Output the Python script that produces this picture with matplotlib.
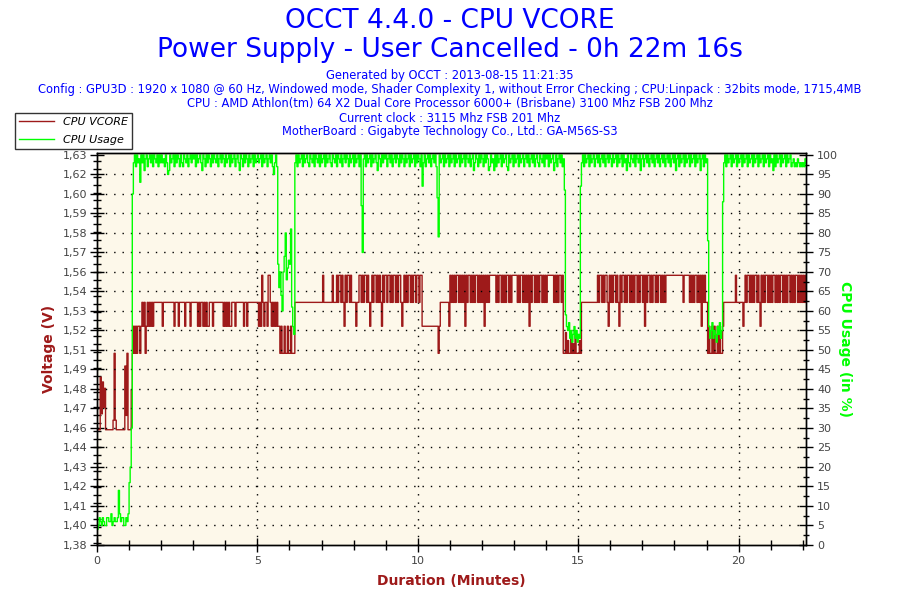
import numpy as np
import matplotlib.pyplot as plt
from matplotlib.ticker import FixedLocator, MultipleLocator
from matplotlib.lines import Line2D

# sampling step of the log : 2 s (in minutes)
pas_min = 2.0 / 60.0

# voltage levels (V)
A = 1.456
B = 1.504
C = 1.521
D = 1.536
E = 1.553

# CPU VCORE, one line = one minute (30 values)
vcore = [
    A, A, A, 1.489, 1.466, 1.486, 1.470, 1.482, A, A, A, A, A, A, A, 1.462, 1.504, 1.462, A, A, A, A, A, A, A, A, 1.496, 1.465, 1.504, A,
    A, A, 1.481, B, C, B, C, B, C, C, B, C, D, C, D, B, C, D, C, D, C, D, C, D, D, D, D, D, D, D,
    D, C, D, D, D, D, D, D, D, D, D, D, C, D, D, D, C, D, D, D, D, D, C, D, D, D, D, C, D, D,
    D, D, D, D, C, D, C, D, D, C, D, C, D, C, C, D, D, D, C, D, D, D, D, D, D, D, D, D, C, D,
    C, D, C, D, C, C, D, D, D, C, D, D, D, D, D, D, D, C, D, D, C, D, D, D, D, D, D, D, D, D,
    D, C, D, C, E, D, C, D, D, C, E, E, D, C, D, C, D, C, D, C, C, B, C, B, B, C, B, B, C, B,
    B, C, B, B, B, D, D, D, D, D, D, D, D, D, D, D, D, D, D, D, D, D, D, D, D, D, D, D, D, D,
    D, E, D, D, D, D, D, D, D, D, E, D, D, D, E, D, E, E, D, E, D, C, E, D, E, E, D, E, D, D,
    D, D, C, D, D, E, E, D, E, D, E, E, D, E, D, C, D, E, D, E, E, D, E, D, E, D, C, E, D, E,
    E, D, E, E, D, E, D, E, E, D, E, D, E, E, D, C, D, E, D, E, D, E, E, D, E, D, E, E, D, E,
    E, D, E, E, C, C, C, C, C, C, C, C, C, C, C, C, C, C, C, B, C, D, D, D, D, D, D, D, D, C,
    E, D, E, D, E, D, E, E, D, E, D, E, D, E, C, E, D, E, E, D, E, D, E, D, E, E, D, E, D, E,
    D, E, C, E, D, E, D, E, E, E, E, E, E, D, E, D, E, E, D, E, D, E, D, E, E, D, E, D, E, E,
    E, E, E, D, E, D, E, E, D, E, D, E, D, E, C, E, D, E, E, D, E, D, E, D, E, E, D, E, D, E,
    D, E, E, E, E, E, E, D, E, D, E, D, E, E, D, E, B, B, 1.517, B, 1.512, B, B, 1.515, B, 1.510, B, 1.516, B, B,
    B, 1.512, B, D, D, D, D, D, D, D, D, D, D, D, D, D, D, D, E, D, E, E, D, E, D, E, E, D, C, E,
    D, E, D, E, E, D, E, D, C, E, D, E, E, D, E, D, E, E, D, E, D, E, D, E, E, D, E, D, E, E,
    D, E, C, E, D, E, E, D, E, D, E, E, D, E, D, E, E, D, E, D, E, D, E, E, E, E, E, E, E, E,
    E, E, E, E, E, E, E, E, D, E, E, E, E, E, D, E, D, E, D, E, E, D, E, D, E, C, E, D, E, D,
    D, B, C, B, B, C, B, C, B, B, C, B, C, B, B, C, D, D, D, D, D, D, D, D, D, D, D, E, D, D,
    D, D, D, D, C, D, E, D, E, E, D, E, D, E, D, E, E, D, E, D, C, E, D, E, D, E, E, D, E, D,
    E, D, E, E, D, E, D, E, D, E, E, D, E, D, E, D, E, E, D, E, D, E, D, E, E, D, E, D, E, D,
    E, D, E, D,
]

# CPU usage (%), one line = one minute (30 values)
cpu = [
    4, 5, 7, 6, 5, 7, 6, 5, 5, 7, 7, 6, 6, 8, 5, 6, 7, 6, 6, 7, 14, 8, 6, 7, 7, 5, 5, 7, 6, 8,
    16, 20, 30, 90, 98, 100, 97, 100, 98, 99, 93, 100, 98, 100, 96, 99, 100, 97, 99, 100, 98, 100, 97, 100, 99, 98, 100, 97, 100, 98,
    100, 98, 99, 97, 100, 98, 95, 96, 100, 98, 99, 100, 97, 100, 98, 100, 99, 97, 100, 98, 97, 100, 99, 98, 100, 97, 99, 100, 98, 100,
    99, 100, 97, 100, 98, 99, 100, 98, 96, 100, 99, 97, 100, 98, 100, 99, 97, 100, 98, 100, 99, 98, 100, 97, 99, 100, 98, 100, 99, 97,
    100, 98, 99, 100, 97, 100, 98, 99, 100, 97, 99, 100, 98, 96, 100, 99, 97, 100, 98, 100, 99, 97, 100, 98, 99, 100, 97, 100, 98, 99,
    100, 98, 99, 100, 97, 100, 98, 99, 100, 97, 99, 100, 98, 100, 97, 95, 98, 100, 97, 72, 66, 70, 64, 60, 70, 74, 80, 68, 71, 73,
    72, 81, 61, 56, 54, 98, 100, 97, 100, 98, 99, 100, 97, 100, 98, 99, 100, 98, 97, 100, 99, 98, 100, 97, 100, 99, 98, 100, 97, 100,
    98, 99, 100, 97, 100, 98, 99, 100, 98, 97, 100, 99, 98, 100, 97, 100, 99, 98, 100, 97, 99, 100, 98, 100, 99, 97, 100, 98, 99, 100,
    97, 100, 98, 99, 100, 97, 100, 87, 75, 99, 100, 97, 100, 98, 99, 100, 97, 100, 98, 99, 100, 98, 96, 100, 99, 97, 100, 98, 100, 99,
    100, 97, 99, 100, 98, 100, 97, 99, 100, 98, 100, 99, 97, 100, 98, 100, 99, 97, 100, 98, 99, 100, 97, 100, 98, 99, 100, 97, 100, 98,
    100, 99, 97, 100, 92, 98, 100, 97, 99, 100, 98, 100, 97, 99, 100, 98, 100, 97, 89, 79, 100, 98, 99, 100, 97, 100, 98, 99, 100, 97,
    100, 98, 99, 100, 97, 100, 98, 99, 100, 97, 100, 98, 99, 100, 97, 100, 99, 98, 100, 97, 99, 100, 96, 98, 100, 99, 97, 100, 98, 100,
    99, 97, 100, 98, 100, 99, 96, 97, 100, 98, 99, 96, 100, 97, 100, 98, 99, 100, 97, 100, 98, 99, 100, 97, 96, 100, 98, 99, 100, 97,
    100, 98, 99, 100, 97, 100, 98, 99, 100, 97, 99, 100, 98, 100, 97, 99, 100, 98, 100, 97, 99, 100, 98, 97, 100, 99, 98, 100, 97, 100,
    99, 100, 97, 100, 98, 99, 100, 96, 98, 100, 97, 99, 100, 98, 100, 97, 99, 91, 59, 56, 55, 57, 53, 55, 52, 54, 56, 53, 55, 52,
    54, 53, 92, 98, 100, 97, 100, 98, 99, 100, 97, 100, 98, 99, 100, 97, 99, 100, 98, 100, 97, 99, 100, 98, 100, 97, 99, 100, 98, 100,
    99, 97, 100, 98, 99, 100, 97, 100, 98, 99, 100, 97, 100, 98, 99, 96, 100, 98, 97, 100, 99, 98, 100, 97, 100, 99, 98, 100, 96, 99,
    100, 97, 99, 100, 98, 100, 97, 99, 100, 98, 100, 97, 99, 100, 98, 100, 97, 99, 100, 98, 100, 97, 99, 100, 98, 100, 97, 99, 100, 98,
    100, 96, 99, 100, 97, 100, 98, 99, 100, 97, 100, 98, 99, 100, 97, 100, 98, 99, 100, 97, 100, 98, 99, 100, 96, 99, 100, 97, 100, 98,
    99, 78, 56, 53, 55, 57, 53, 55, 54, 52, 56, 54, 57, 53, 55, 88, 98, 100, 97, 100, 98, 99, 100, 97, 100, 98, 99, 100, 97, 100,
    98, 99, 100, 97, 100, 98, 99, 100, 97, 100, 98, 99, 100, 97, 100, 98, 99, 100, 97, 100, 98, 99, 100, 97, 100, 98, 99, 100, 97, 100,
    98, 99, 96, 100, 97, 100, 98, 99, 100, 97, 100, 98, 99, 100, 97, 100, 98, 99, 100, 97, 98, 99, 97, 98, 97, 99, 98, 97, 98, 97,
    98, 97, 99, 98,
]

# axis scale of the voltage side (21 labelled positions)
v_min = 1.3836
v_pas = 0.01225
duree_max = 22.1

titre1 = "OCCT 4.4.0 - CPU VCORE"
titre2 = "Power Supply - User Cancelled - 0h 22m 16s"
infos = [
    "Generated by OCCT : 2013-08-15 11:21:35",
    "Config : GPU3D : 1920 x 1080 @ 60 Hz, Windowed mode, Shader Complexity 1, without Error Checking ; CPU:Linpack : 32bits mode, 1715,4MB",
    "CPU : AMD Athlon(tm) 64 X2 Dual Core Processor 6000+ (Brisbane) 3100 Mhz FSB 200 Mhz",
    "Current clock : 3115 Mhz FSB 201 Mhz",
    "MotherBoard : Gigabyte Technology Co., Ltd.: GA-M56S-S3",
]

ROUGE = "#9e1a1a"
VERT = "#00ff00"
BLEU = "#0000ff"
GRIS = "#444444"

t_v = np.arange(len(vcore)) * pas_min
t_c = np.arange(len(cpu)) * pas_min

fig = plt.figure(figsize=(9, 6), dpi=100)
fig.patch.set_facecolor("white")

ax = fig.add_axes([97 / 900, 55 / 600, 709 / 900, 392 / 600])
ax.set_facecolor("#fdf8ea")
ax2 = ax.twinx()

ax.plot(t_v, vcore, color=ROUGE, linewidth=1, drawstyle="steps-post")
ax2.plot(t_c, cpu, color=VERT, linewidth=1, drawstyle="steps-post")

haut = 100.5
ax.set_xlim(0, duree_max)
ax.set_ylim(v_min, v_min + v_pas * 20 * haut / 100)
ax2.set_ylim(0, haut)

# ticks voltage
pos_v = [v_min + v_pas * k for k in range(21)]
ax.yaxis.set_major_locator(FixedLocator(pos_v))
ax.set_yticklabels([("%.2f" % v).replace(".", ",") for v in pos_v])
ax.yaxis.set_minor_locator(MultipleLocator(0.005))
ax2.yaxis.set_major_locator(MultipleLocator(5))
ax2.yaxis.set_minor_locator(MultipleLocator(2.5))
ax.xaxis.set_major_locator(MultipleLocator(5))
ax.xaxis.set_minor_locator(MultipleLocator(1))

ax.tick_params(axis="y", which="major", direction="inout", length=10, width=1, labelsize=8, labelcolor=GRIS, pad=2)
ax.tick_params(axis="y", which="minor", direction="inout", length=6, width=1)
ax2.tick_params(axis="y", which="major", direction="inout", length=10, width=1, labelsize=8, labelcolor=GRIS, pad=3)
ax2.tick_params(axis="y", which="minor", direction="inout", length=5, width=1)
ax.tick_params(axis="x", which="major", direction="inout", length=10, width=1, labelsize=8, labelcolor=GRIS, pad=3)
ax.tick_params(axis="x", which="minor", direction="inout", length=7, width=1)

# grille pointillee
for k in range(1, 20):
    ax2.axhline(5 * k, color="black", linewidth=1, linestyle=(0, (1, 5)), zorder=0)
for x in [5, 10, 15, 20]:
    ax.axvline(x, color="black", linewidth=1, linestyle=(0, (1, 5)), zorder=0)
ax.set_axisbelow(True)

for a in (ax, ax2):
    for s in a.spines.values():
        s.set_color("black")
        s.set_linewidth(1)

ax.set_xlabel("Duration (Minutes)", color=ROUGE, fontweight="bold", fontsize=10, labelpad=6)
ax.set_ylabel("Voltage (V)", color=ROUGE, fontweight="bold", fontsize=10, labelpad=5)
ax2.set_ylabel("CPU Usage (in %)", color=VERT, fontweight="bold", fontsize=10, rotation=270, labelpad=10)

# titres
fig.text(0.5, 1 - 21 / 600, titre1, ha="center", va="center", color=BLEU, fontsize=19)
fig.text(0.5, 1 - 50 / 600, titre2, ha="center", va="center", color=BLEU, fontsize=19)
for i, ligne in enumerate(infos):
    fig.text(0.5, 1 - (76 + 14 * i) / 600, ligne, ha="center", va="center", color=BLEU, fontsize=8.3)

# legende
poignees = [Line2D([0], [0], color=ROUGE, linewidth=1), Line2D([0], [0], color=VERT, linewidth=1)]
leg = fig.legend(poignees, ["CPU VCORE", "CPU Usage"], loc="upper left",
                 bbox_to_anchor=(15 / 900, 1 - 113 / 600), borderaxespad=0,
                 fancybox=False, frameon=True, prop={"style": "italic", "size": 8},
                 handlelength=3.2, borderpad=0.35, labelspacing=0.75, handletextpad=0.8)
leg.get_frame().set_edgecolor("black")
leg.get_frame().set_linewidth(1)

fig.savefig("out.png", dpi=100)
